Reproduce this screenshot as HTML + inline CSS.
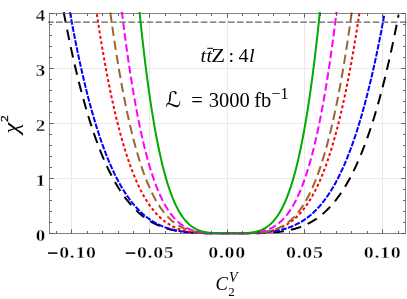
<!DOCTYPE html><html><head><meta charset="utf-8"><style>html,body{margin:0;padding:0;background:#fff}svg{display:block}text{font-family:"Liberation Serif",serif;}svg{will-change:transform}</style></head><body>
<svg width="407" height="299" viewBox="0 0 407 299">
<rect width="407" height="299" fill="#fff"/>
<path d="M71.50 13.50 V233.50 M149.50 13.50 V233.50 M227.50 13.50 V233.50 M304.50 13.50 V233.50 M382.50 13.50 V233.50 M49.50 178.50 H405.50 M49.50 123.50 H405.50 M49.50 68.50 H405.50" stroke="#e4e4e4" stroke-width="0.8" fill="none"/>
<g fill="none">
<path d="M63.67 11.98 L64.70 17.36 L65.73 22.65 L66.76 27.83 L67.79 32.92 L68.82 37.91 L69.85 42.82 L70.87 47.62 L71.90 52.34 L72.93 56.96 L73.96 61.50 L74.99 65.95 L76.02 70.31 L77.04 74.59 L78.07 78.78 L79.10 82.89 L80.13 86.91 L81.16 90.85 L82.19 94.72 L83.22 98.50 L84.24 102.21 L85.27 105.84 L86.30 109.39 L87.33 112.87 L88.36 116.28 L89.39 119.61 L90.41 122.87 L91.44 126.06 L92.47 129.18 L93.50 132.23 L94.53 135.22 L95.56 138.13 L96.59 140.99 L97.61 143.77 L98.64 146.50 L99.67 149.16 L100.70 151.76 L101.73 154.30 L102.76 156.78 L103.78 159.20 L104.81 161.56 L105.84 163.87 L106.87 166.11 L107.90 168.31 L108.93 170.45 L109.96 172.54 L110.98 174.57 L112.01 176.56 L113.04 178.49 L114.07 180.37 L115.10 182.20 L116.13 183.99 L117.15 185.73 L118.18 187.42 L119.21 189.07 L120.24 190.67 L121.27 192.23 L122.30 193.74 L123.33 195.22 L124.35 196.65 L125.38 198.04 L126.41 199.39 L127.44 200.70 L128.47 201.97 L129.50 203.21 L130.52 204.41 L131.55 205.57 L132.58 206.70 L133.61 207.79 L134.64 208.85 L135.67 209.87 L136.70 210.86 L137.72 211.83 L138.75 212.75 L139.78 213.65 L140.81 214.52 L141.84 215.36 L142.87 216.17 L143.89 216.96 L144.92 217.72 L145.95 218.45 L146.98 219.15 L148.01 219.83 L149.04 220.48 L150.07 221.11 L151.09 221.72 L152.12 222.30 L153.15 222.86 L154.18 223.40 L155.21 223.92 L156.24 224.42 L157.26 224.90 L158.29 225.35 L159.32 225.79 L160.35 226.21 L161.38 226.62 L162.41 227.00 L163.44 227.37 L164.46 227.72 L165.49 228.06 L166.52 228.38 L167.55 228.69 L168.58 228.98 L169.61 229.26 L170.63 229.52 L171.66 229.77 L172.69 230.01 L173.72 230.23 L174.75 230.45 L175.78 230.65 L176.81 230.84 L177.83 231.02 L178.86 231.19 L179.89 231.36 L180.92 231.51 L181.95 231.65 L182.98 231.78 L184.00 231.91 L185.03 232.03 L186.06 232.14 L187.09 232.24 L188.12 232.34 L189.15 232.43 L190.18 232.51 L191.20 232.58 L192.23 232.66 L193.26 232.72 L194.29 232.78 L195.32 232.84 L196.35 232.89 L197.37 232.94 L198.40 232.98 L199.43 233.02 L200.46 233.05 L201.49 233.08 L202.52 233.11 L203.55 233.14 L204.57 233.16 L205.60 233.18 L206.63 233.20 L207.66 233.22 L208.69 233.23 L209.72 233.24 L210.74 233.25 L211.77 233.26 L212.80 233.27 L213.83 233.28 L214.86 233.28 L215.89 233.29 L216.92 233.29 L217.94 233.29 L218.97 233.29 L220.00 233.30 L221.03 233.30 L222.06 233.30 L223.09 233.30 L224.11 233.30 L225.14 233.30 L226.17 233.30 L227.20 233.30" stroke="#000000" stroke-width="2.00" stroke-dasharray="10.60 7.20" stroke-dashoffset="17.57"/>
<path d="M398.57 14.90 L397.49 20.48 L396.41 25.95 L395.33 31.32 L394.26 36.58 L393.18 41.74 L392.10 46.80 L391.02 51.75 L389.95 56.61 L388.87 61.37 L387.79 66.03 L386.71 70.60 L385.63 75.07 L384.56 79.45 L383.48 83.74 L382.40 87.94 L381.32 92.05 L380.25 96.07 L379.17 100.00 L378.09 103.85 L377.01 107.62 L375.93 111.30 L374.86 114.90 L373.78 118.42 L372.70 121.87 L371.62 125.23 L370.55 128.52 L369.47 131.73 L368.39 134.87 L367.31 137.93 L366.23 140.92 L365.16 143.84 L364.08 146.70 L363.00 149.48 L361.92 152.19 L360.85 154.84 L359.77 157.43 L358.69 159.94 L357.61 162.40 L356.53 164.79 L355.46 167.13 L354.38 169.40 L353.30 171.61 L352.22 173.77 L351.15 175.87 L350.07 177.91 L348.99 179.90 L347.91 181.83 L346.83 183.71 L345.76 185.54 L344.68 187.32 L343.60 189.04 L342.52 190.72 L341.45 192.35 L340.37 193.94 L339.29 195.47 L338.21 196.96 L337.13 198.41 L336.06 199.81 L334.98 201.17 L333.90 202.49 L332.82 203.77 L331.75 205.01 L330.67 206.21 L329.59 207.37 L328.51 208.49 L327.43 209.57 L326.36 210.62 L325.28 211.64 L324.20 212.62 L323.12 213.56 L322.05 214.48 L320.97 215.36 L319.89 216.21 L318.81 217.03 L317.73 217.82 L316.66 218.58 L315.58 219.31 L314.50 220.01 L313.42 220.69 L312.35 221.34 L311.27 221.97 L310.19 222.57 L309.11 223.15 L308.03 223.70 L306.96 224.23 L305.88 224.74 L304.80 225.22 L303.72 225.69 L302.64 226.14 L301.57 226.56 L300.49 226.97 L299.41 227.35 L298.33 227.72 L297.26 228.08 L296.18 228.41 L295.10 228.73 L294.02 229.03 L292.94 229.32 L291.87 229.59 L290.79 229.85 L289.71 230.10 L288.63 230.33 L287.56 230.55 L286.48 230.75 L285.40 230.95 L284.32 231.13 L283.24 231.30 L282.17 231.47 L281.09 231.62 L280.01 231.76 L278.93 231.89 L277.86 232.02 L276.78 232.13 L275.70 232.24 L274.62 232.34 L273.54 232.43 L272.47 232.52 L271.39 232.60 L270.31 232.67 L269.23 232.74 L268.16 232.80 L267.08 232.86 L266.00 232.91 L264.92 232.96 L263.84 233.00 L262.77 233.04 L261.69 233.07 L260.61 233.10 L259.53 233.13 L258.46 233.16 L257.38 233.18 L256.30 233.20 L255.22 233.22 L254.14 233.23 L253.07 233.24 L251.99 233.25 L250.91 233.26 L249.83 233.27 L248.76 233.28 L247.68 233.28 L246.60 233.29 L245.52 233.29 L244.44 233.29 L243.37 233.30 L242.29 233.30 L241.21 233.30 L240.13 233.30 L239.06 233.30 L237.98 233.30 L236.90 233.30 L235.82 233.30 L234.74 233.30 L233.67 233.30 L232.59 233.30 L231.51 233.30 L230.43 233.30 L229.36 233.30 L228.28 233.30 L227.20 233.30" stroke="#000000" stroke-width="2.00" stroke-dasharray="10.60 7.20" stroke-dashoffset="7.80"/>
<path d="M69.91 11.98 L70.90 17.43 L71.89 22.79 L72.88 28.04 L73.86 33.19 L74.85 38.25 L75.84 43.21 L76.83 48.07 L77.82 52.84 L78.81 57.51 L79.80 62.10 L80.79 66.59 L81.78 70.99 L82.77 75.31 L83.76 79.54 L84.75 83.68 L85.74 87.74 L86.72 91.71 L87.71 95.61 L88.70 99.42 L89.69 103.15 L90.68 106.80 L91.67 110.38 L92.66 113.87 L93.65 117.30 L94.64 120.64 L95.63 123.92 L96.62 127.12 L97.61 130.25 L98.60 133.31 L99.59 136.31 L100.57 139.23 L101.56 142.09 L102.55 144.88 L103.54 147.61 L104.53 150.27 L105.52 152.87 L106.51 155.41 L107.50 157.88 L108.49 160.30 L109.48 162.66 L110.47 164.96 L111.46 167.20 L112.45 169.39 L113.43 171.52 L114.42 173.60 L115.41 175.62 L116.40 177.60 L117.39 179.52 L118.38 181.39 L119.37 183.21 L120.36 184.98 L121.35 186.71 L122.34 188.39 L123.33 190.02 L124.32 191.60 L125.31 193.15 L126.30 194.65 L127.28 196.10 L128.27 197.52 L129.26 198.89 L130.25 200.22 L131.24 201.52 L132.23 202.77 L133.22 203.99 L134.21 205.17 L135.20 206.31 L136.19 207.42 L137.18 208.49 L138.17 209.53 L139.16 210.54 L140.14 211.51 L141.13 212.45 L142.12 213.36 L143.11 214.24 L144.10 215.09 L145.09 215.91 L146.08 216.71 L147.07 217.47 L148.06 218.21 L149.05 218.92 L150.04 219.61 L151.03 220.27 L152.02 220.90 L153.01 221.52 L153.99 222.11 L154.98 222.67 L155.97 223.22 L156.96 223.74 L157.95 224.24 L158.94 224.72 L159.93 225.18 L160.92 225.63 L161.91 226.05 L162.90 226.46 L163.89 226.85 L164.88 227.22 L165.87 227.57 L166.85 227.91 L167.84 228.23 L168.83 228.54 L169.82 228.84 L170.81 229.11 L171.80 229.38 L172.79 229.63 L173.78 229.87 L174.77 230.10 L175.76 230.32 L176.75 230.52 L177.74 230.72 L178.73 230.90 L179.72 231.07 L180.70 231.24 L181.69 231.39 L182.68 231.53 L183.67 231.67 L184.66 231.80 L185.65 231.92 L186.64 232.03 L187.63 232.14 L188.62 232.23 L189.61 232.33 L190.60 232.41 L191.59 232.49 L192.58 232.57 L193.57 232.63 L194.55 232.70 L195.54 232.76 L196.53 232.81 L197.52 232.86 L198.51 232.91 L199.50 232.95 L200.49 232.99 L201.48 233.02 L202.47 233.05 L203.46 233.08 L204.45 233.11 L205.44 233.13 L206.43 233.15 L207.41 233.17 L208.40 233.19 L209.39 233.21 L210.38 233.22 L211.37 233.23 L212.36 233.24 L213.35 233.25 L214.34 233.26 L215.33 233.27 L216.32 233.27 L217.31 233.28 L218.30 233.28 L219.29 233.29 L220.28 233.29 L221.26 233.29 L222.25 233.30 L223.24 233.30 L224.23 233.30 L225.22 233.30 L226.21 233.30 L227.20 233.30" stroke="#0000ff" stroke-width="2.00" stroke-dasharray="5.70 1.45" stroke-dashoffset="6.96"/>
<path d="M384.11 15.80 L383.13 21.17 L382.14 26.44 L381.15 31.61 L380.16 36.69 L379.18 41.66 L378.19 46.54 L377.20 51.33 L376.22 56.02 L375.23 60.62 L374.24 65.13 L373.26 69.56 L372.27 73.89 L371.28 78.14 L370.30 82.30 L369.31 86.38 L368.32 90.37 L367.34 94.28 L366.35 98.11 L365.36 101.86 L364.37 105.53 L363.39 109.12 L362.40 112.64 L361.41 116.08 L360.43 119.45 L359.44 122.74 L358.45 125.96 L357.47 129.11 L356.48 132.19 L355.49 135.20 L354.51 138.14 L353.52 141.02 L352.53 143.83 L351.55 146.57 L350.56 149.25 L349.57 151.87 L348.59 154.42 L347.60 156.92 L346.61 159.35 L345.62 161.73 L344.64 164.04 L343.65 166.30 L342.66 168.51 L341.68 170.66 L340.69 172.75 L339.70 174.79 L338.72 176.78 L337.73 178.72 L336.74 180.61 L335.76 182.45 L334.77 184.23 L333.78 185.97 L332.80 187.67 L331.81 189.32 L330.82 190.92 L329.83 192.48 L328.85 193.99 L327.86 195.46 L326.87 196.89 L325.89 198.28 L324.90 199.63 L323.91 200.93 L322.93 202.20 L321.94 203.43 L320.95 204.63 L319.97 205.78 L318.98 206.91 L317.99 207.99 L317.01 209.05 L316.02 210.06 L315.03 211.05 L314.04 212.01 L313.06 212.93 L312.07 213.82 L311.08 214.68 L310.10 215.52 L309.11 216.32 L308.12 217.10 L307.14 217.85 L306.15 218.57 L305.16 219.27 L304.18 219.94 L303.19 220.58 L302.20 221.21 L301.22 221.81 L300.23 222.38 L299.24 222.94 L298.25 223.47 L297.27 223.98 L296.28 224.47 L295.29 224.94 L294.31 225.39 L293.32 225.83 L292.33 226.24 L291.35 226.64 L290.36 227.02 L289.37 227.38 L288.39 227.72 L287.40 228.06 L286.41 228.37 L285.43 228.67 L284.44 228.96 L283.45 229.23 L282.46 229.49 L281.48 229.74 L280.49 229.97 L279.50 230.19 L278.52 230.40 L277.53 230.60 L276.54 230.79 L275.56 230.97 L274.57 231.14 L273.58 231.30 L272.60 231.45 L271.61 231.59 L270.62 231.72 L269.64 231.85 L268.65 231.96 L267.66 232.07 L266.67 232.17 L265.69 232.27 L264.70 232.36 L263.71 232.44 L262.73 232.52 L261.74 232.59 L260.75 232.66 L259.77 232.72 L258.78 232.77 L257.79 232.83 L256.81 232.88 L255.82 232.92 L254.83 232.96 L253.85 233.00 L252.86 233.03 L251.87 233.06 L250.88 233.09 L249.90 233.12 L248.91 233.14 L247.92 233.16 L246.94 233.18 L245.95 233.19 L244.96 233.21 L243.98 233.22 L242.99 233.23 L242.00 233.24 L241.02 233.25 L240.03 233.26 L239.04 233.27 L238.06 233.27 L237.07 233.28 L236.08 233.28 L235.09 233.29 L234.11 233.29 L233.12 233.29 L232.13 233.30 L231.15 233.30 L230.16 233.30 L229.17 233.30 L228.19 233.30 L227.20 233.30" stroke="#0000ff" stroke-width="2.00" stroke-dasharray="5.70 1.45" stroke-dashoffset="0.00"/>
<path d="M96.54 11.98 L97.36 17.46 L98.18 22.84 L99.00 28.11 L99.83 33.29 L100.65 38.37 L101.47 43.35 L102.29 48.24 L103.11 53.03 L103.93 57.72 L104.76 62.33 L105.58 66.84 L106.40 71.26 L107.22 75.60 L108.04 79.84 L108.87 84.00 L109.69 88.08 L110.51 92.07 L111.33 95.98 L112.15 99.80 L112.97 103.55 L113.80 107.22 L114.62 110.81 L115.44 114.32 L116.26 117.75 L117.08 121.11 L117.90 124.40 L118.73 127.61 L119.55 130.76 L120.37 133.83 L121.19 136.83 L122.01 139.76 L122.84 142.63 L123.66 145.43 L124.48 148.16 L125.30 150.83 L126.12 153.44 L126.94 155.98 L127.77 158.47 L128.59 160.89 L129.41 163.25 L130.23 165.56 L131.05 167.81 L131.87 170.00 L132.70 172.13 L133.52 174.22 L134.34 176.24 L135.16 178.22 L135.98 180.14 L136.81 182.02 L137.63 183.84 L138.45 185.61 L139.27 187.34 L140.09 189.02 L140.91 190.65 L141.74 192.23 L142.56 193.78 L143.38 195.27 L144.20 196.73 L145.02 198.14 L145.85 199.51 L146.67 200.84 L147.49 202.14 L148.31 203.39 L149.13 204.60 L149.95 205.78 L150.78 206.92 L151.60 208.02 L152.42 209.09 L153.24 210.13 L154.06 211.13 L154.88 212.10 L155.71 213.03 L156.53 213.94 L157.35 214.81 L158.17 215.66 L158.99 216.47 L159.82 217.26 L160.64 218.02 L161.46 218.75 L162.28 219.46 L163.10 220.14 L163.92 220.79 L164.75 221.42 L165.57 222.02 L166.39 222.61 L167.21 223.16 L168.03 223.70 L168.85 224.22 L169.68 224.71 L170.50 225.18 L171.32 225.64 L172.14 226.07 L172.96 226.49 L173.79 226.89 L174.61 227.27 L175.43 227.63 L176.25 227.97 L177.07 228.30 L177.89 228.62 L178.72 228.92 L179.54 229.20 L180.36 229.47 L181.18 229.73 L182.00 229.97 L182.82 230.21 L183.65 230.42 L184.47 230.63 L185.29 230.83 L186.11 231.01 L186.93 231.19 L187.76 231.35 L188.58 231.50 L189.40 231.65 L190.22 231.79 L191.04 231.91 L191.86 232.03 L192.69 232.14 L193.51 232.25 L194.33 232.34 L195.15 232.43 L195.97 232.52 L196.79 232.59 L197.62 232.67 L198.44 232.73 L199.26 232.79 L200.08 232.85 L200.90 232.90 L201.73 232.95 L202.55 232.99 L203.37 233.03 L204.19 233.06 L205.01 233.09 L205.83 233.12 L206.66 233.15 L207.48 233.17 L208.30 233.19 L209.12 233.21 L209.94 233.22 L210.76 233.23 L211.59 233.25 L212.41 233.26 L213.23 233.26 L214.05 233.27 L214.87 233.28 L215.70 233.28 L216.52 233.29 L217.34 233.29 L218.16 233.29 L218.98 233.30 L219.80 233.30 L220.63 233.30 L221.45 233.30 L222.27 233.30 L223.09 233.30 L223.91 233.30 L224.73 233.30 L225.56 233.30 L226.38 233.30 L227.20 233.30" stroke="#ff0000" stroke-width="2.00" stroke-dasharray="3.00 2.50" stroke-dashoffset="3.41"/>
<path d="M359.57 11.98 L358.74 17.53 L357.91 22.98 L357.07 28.32 L356.24 33.56 L355.41 38.70 L354.58 43.74 L353.74 48.68 L352.91 53.52 L352.08 58.27 L351.25 62.92 L350.41 67.48 L349.58 71.95 L348.75 76.32 L347.92 80.61 L347.08 84.81 L346.25 88.92 L345.42 92.95 L344.59 96.89 L343.75 100.74 L342.92 104.52 L342.09 108.21 L341.26 111.83 L340.42 115.36 L339.59 118.82 L338.76 122.20 L337.93 125.50 L337.09 128.73 L336.26 131.89 L335.43 134.97 L334.60 137.99 L333.76 140.93 L332.93 143.81 L332.10 146.62 L331.27 149.36 L330.43 152.04 L329.60 154.65 L328.77 157.19 L327.94 159.68 L327.10 162.10 L326.27 164.47 L325.44 166.77 L324.61 169.02 L323.77 171.21 L322.94 173.34 L322.11 175.42 L321.28 177.44 L320.44 179.41 L319.61 181.33 L318.78 183.19 L317.95 185.00 L317.11 186.77 L316.28 188.48 L315.45 190.15 L314.62 191.77 L313.78 193.35 L312.95 194.88 L312.12 196.36 L311.29 197.81 L310.45 199.20 L309.62 200.56 L308.79 201.88 L307.95 203.15 L307.12 204.39 L306.29 205.59 L305.46 206.75 L304.62 207.88 L303.79 208.96 L302.96 210.02 L302.13 211.03 L301.29 212.02 L300.46 212.97 L299.63 213.89 L298.80 214.78 L297.96 215.63 L297.13 216.46 L296.30 217.26 L295.47 218.03 L294.63 218.77 L293.80 219.48 L292.97 220.17 L292.14 220.83 L291.30 221.46 L290.47 222.08 L289.64 222.66 L288.81 223.23 L287.97 223.77 L287.14 224.29 L286.31 224.78 L285.48 225.26 L284.64 225.72 L283.81 226.15 L282.98 226.57 L282.15 226.97 L281.31 227.35 L280.48 227.71 L279.65 228.06 L278.82 228.39 L277.98 228.70 L277.15 229.00 L276.32 229.29 L275.49 229.56 L274.65 229.81 L273.82 230.06 L272.99 230.29 L272.16 230.50 L271.32 230.71 L270.49 230.90 L269.66 231.09 L268.83 231.26 L267.99 231.42 L267.16 231.57 L266.33 231.71 L265.50 231.85 L264.66 231.97 L263.83 232.09 L263.00 232.20 L262.17 232.30 L261.33 232.39 L260.50 232.48 L259.67 232.56 L258.84 232.64 L258.00 232.71 L257.17 232.77 L256.34 232.83 L255.51 232.88 L254.67 232.93 L253.84 232.97 L253.01 233.01 L252.18 233.05 L251.34 233.08 L250.51 233.11 L249.68 233.14 L248.85 233.16 L248.01 233.18 L247.18 233.20 L246.35 233.22 L245.52 233.23 L244.68 233.24 L243.85 233.25 L243.02 233.26 L242.19 233.27 L241.35 233.28 L240.52 233.28 L239.69 233.29 L238.86 233.29 L238.02 233.29 L237.19 233.29 L236.36 233.30 L235.53 233.30 L234.69 233.30 L233.86 233.30 L233.03 233.30 L232.20 233.30 L231.36 233.30 L230.53 233.30 L229.70 233.30 L228.87 233.30 L228.03 233.30 L227.20 233.30" stroke="#ff0000" stroke-width="2.00" stroke-dasharray="3.00 2.50" stroke-dashoffset="4.16"/>
<path d="M110.24 11.98 L110.97 17.33 L111.71 22.58 L112.45 27.73 L113.18 32.79 L113.92 37.76 L114.65 42.63 L115.39 47.41 L116.12 52.10 L116.86 56.70 L117.60 61.22 L118.33 65.64 L119.07 69.98 L119.80 74.24 L120.54 78.41 L121.27 82.50 L122.01 86.51 L122.74 90.44 L123.48 94.28 L124.22 98.05 L124.95 101.75 L125.69 105.36 L126.42 108.90 L127.16 112.37 L127.89 115.77 L128.63 119.09 L129.36 122.34 L130.10 125.52 L130.84 128.64 L131.57 131.68 L132.31 134.66 L133.04 137.57 L133.78 140.42 L134.51 143.20 L135.25 145.92 L135.99 148.58 L136.72 151.18 L137.46 153.71 L138.19 156.19 L138.93 158.61 L139.66 160.97 L140.40 163.28 L141.13 165.53 L141.87 167.73 L142.61 169.87 L143.34 171.96 L144.08 173.99 L144.81 175.98 L145.55 177.91 L146.28 179.80 L147.02 181.64 L147.75 183.43 L148.49 185.17 L149.23 186.87 L149.96 188.52 L150.70 190.13 L151.43 191.69 L152.17 193.21 L152.90 194.69 L153.64 196.13 L154.38 197.52 L155.11 198.88 L155.85 200.20 L156.58 201.48 L157.32 202.72 L158.05 203.93 L158.79 205.10 L159.52 206.23 L160.26 207.33 L161.00 208.40 L161.73 209.43 L162.47 210.43 L163.20 211.40 L163.94 212.34 L164.67 213.25 L165.41 214.13 L166.14 214.97 L166.88 215.79 L167.62 216.59 L168.35 217.35 L169.09 218.09 L169.82 218.80 L170.56 219.49 L171.29 220.15 L172.03 220.79 L172.77 221.41 L173.50 222.00 L174.24 222.57 L174.97 223.12 L175.71 223.64 L176.44 224.15 L177.18 224.63 L177.91 225.10 L178.65 225.55 L179.39 225.98 L180.12 226.39 L180.86 226.78 L181.59 227.16 L182.33 227.52 L183.06 227.86 L183.80 228.19 L184.54 228.50 L185.27 228.80 L186.01 229.09 L186.74 229.36 L187.48 229.61 L188.21 229.86 L188.95 230.09 L189.68 230.31 L190.42 230.52 L191.16 230.72 L191.89 230.91 L192.63 231.08 L193.36 231.25 L194.10 231.41 L194.83 231.55 L195.57 231.69 L196.30 231.82 L197.04 231.95 L197.78 232.06 L198.51 232.17 L199.25 232.27 L199.98 232.36 L200.72 232.45 L201.45 232.53 L202.19 232.61 L202.93 232.68 L203.66 232.74 L204.40 232.80 L205.13 232.85 L205.87 232.90 L206.60 232.95 L207.34 232.99 L208.07 233.03 L208.81 233.06 L209.55 233.09 L210.28 233.12 L211.02 233.15 L211.75 233.17 L212.49 233.19 L213.22 233.21 L213.96 233.22 L214.69 233.23 L215.43 233.25 L216.17 233.26 L216.90 233.26 L217.64 233.27 L218.37 233.28 L219.11 233.28 L219.84 233.29 L220.58 233.29 L221.32 233.29 L222.05 233.30 L222.79 233.30 L223.52 233.30 L224.26 233.30 L224.99 233.30 L225.73 233.30 L226.46 233.30 L227.20 233.30" stroke="#996633" stroke-width="2.00" stroke-dasharray="9.30 4.97" stroke-dashoffset="13.75"/>
<path d="M351.78 11.98 L351.00 17.67 L350.21 23.26 L349.43 28.73 L348.65 34.10 L347.86 39.36 L347.08 44.51 L346.30 49.56 L345.51 54.51 L344.73 59.36 L343.95 64.11 L343.16 68.76 L342.38 73.32 L341.59 77.78 L340.81 82.14 L340.03 86.42 L339.24 90.60 L338.46 94.69 L337.68 98.70 L336.89 102.61 L336.11 106.44 L335.33 110.19 L334.54 113.85 L333.76 117.43 L332.98 120.93 L332.19 124.35 L331.41 127.69 L330.63 130.95 L329.84 134.14 L329.06 137.25 L328.27 140.29 L327.49 143.26 L326.71 146.15 L325.92 148.97 L325.14 151.73 L324.36 154.41 L323.57 157.03 L322.79 159.59 L322.01 162.08 L321.22 164.50 L320.44 166.87 L319.66 169.17 L318.87 171.41 L318.09 173.59 L317.31 175.72 L316.52 177.78 L315.74 179.79 L314.95 181.75 L314.17 183.65 L313.39 185.50 L312.60 187.30 L311.82 189.04 L311.04 190.74 L310.25 192.38 L309.47 193.98 L308.69 195.53 L307.90 197.04 L307.12 198.50 L306.34 199.91 L305.55 201.28 L304.77 202.61 L303.99 203.90 L303.20 205.14 L302.42 206.35 L301.63 207.52 L300.85 208.64 L300.07 209.74 L299.28 210.79 L298.50 211.81 L297.72 212.79 L296.93 213.74 L296.15 214.66 L295.37 215.54 L294.58 216.39 L293.80 217.22 L293.02 218.01 L292.23 218.77 L291.45 219.50 L290.67 220.21 L289.88 220.88 L289.10 221.53 L288.31 222.16 L287.53 222.76 L286.75 223.33 L285.96 223.88 L285.18 224.41 L284.40 224.92 L283.61 225.40 L282.83 225.86 L282.05 226.31 L281.26 226.73 L280.48 227.13 L279.70 227.51 L278.91 227.88 L278.13 228.23 L277.35 228.56 L276.56 228.87 L275.78 229.17 L274.99 229.46 L274.21 229.73 L273.43 229.98 L272.64 230.22 L271.86 230.45 L271.08 230.66 L270.29 230.86 L269.51 231.05 L268.73 231.23 L267.94 231.40 L267.16 231.56 L266.38 231.71 L265.59 231.84 L264.81 231.97 L264.03 232.09 L263.24 232.21 L262.46 232.31 L261.68 232.41 L260.89 232.50 L260.11 232.58 L259.32 232.65 L258.54 232.72 L257.76 232.79 L256.97 232.85 L256.19 232.90 L255.41 232.95 L254.62 232.99 L253.84 233.03 L253.06 233.07 L252.27 233.10 L251.49 233.13 L250.71 233.15 L249.92 233.18 L249.14 233.20 L248.36 233.21 L247.57 233.23 L246.79 233.24 L246.00 233.25 L245.22 233.26 L244.44 233.27 L243.65 233.28 L242.87 233.28 L242.09 233.29 L241.30 233.29 L240.52 233.29 L239.74 233.30 L238.95 233.30 L238.17 233.30 L237.39 233.30 L236.60 233.30 L235.82 233.30 L235.04 233.30 L234.25 233.30 L233.47 233.30 L232.68 233.30 L231.90 233.30 L231.12 233.30 L230.33 233.30 L229.55 233.30 L228.77 233.30 L227.98 233.30 L227.20 233.30" stroke="#996633" stroke-width="2.00" stroke-dasharray="9.30 4.97" stroke-dashoffset="13.90"/>
<path d="M121.92 11.98 L122.58 17.39 L123.25 22.71 L123.91 27.92 L124.57 33.04 L125.23 38.07 L125.89 42.99 L126.56 47.83 L127.22 52.57 L127.88 57.21 L128.54 61.77 L129.21 66.24 L129.87 70.63 L130.53 74.92 L131.19 79.13 L131.85 83.25 L132.52 87.30 L133.18 91.26 L133.84 95.13 L134.50 98.93 L135.16 102.65 L135.83 106.29 L136.49 109.86 L137.15 113.35 L137.81 116.76 L138.47 120.11 L139.14 123.38 L139.80 126.57 L140.46 129.70 L141.12 132.76 L141.79 135.75 L142.45 138.67 L143.11 141.53 L143.77 144.32 L144.43 147.05 L145.10 149.71 L145.76 152.32 L146.42 154.86 L147.08 157.34 L147.74 159.76 L148.41 162.12 L149.07 164.43 L149.73 166.68 L150.39 168.87 L151.06 171.01 L151.72 173.09 L152.38 175.13 L153.04 177.11 L153.70 179.04 L154.37 180.92 L155.03 182.75 L155.69 184.53 L156.35 186.26 L157.01 187.95 L157.68 189.59 L158.34 191.19 L159.00 192.74 L159.66 194.25 L160.33 195.72 L160.99 197.14 L161.65 198.53 L162.31 199.87 L162.97 201.18 L163.64 202.44 L164.30 203.67 L164.96 204.86 L165.62 206.02 L166.28 207.14 L166.95 208.22 L167.61 209.27 L168.27 210.29 L168.93 211.28 L169.59 212.23 L170.26 213.15 L170.92 214.04 L171.58 214.90 L172.24 215.73 L172.91 216.54 L173.57 217.31 L174.23 218.06 L174.89 218.78 L175.55 219.48 L176.22 220.15 L176.88 220.80 L177.54 221.42 L178.20 222.02 L178.86 222.59 L179.53 223.14 L180.19 223.68 L180.85 224.19 L181.51 224.68 L182.18 225.14 L182.84 225.60 L183.50 226.03 L184.16 226.44 L184.82 226.83 L185.49 227.21 L186.15 227.57 L186.81 227.92 L187.47 228.25 L188.13 228.56 L188.80 228.86 L189.46 229.14 L190.12 229.42 L190.78 229.67 L191.45 229.92 L192.11 230.15 L192.77 230.37 L193.43 230.58 L194.09 230.77 L194.76 230.96 L195.42 231.13 L196.08 231.30 L196.74 231.46 L197.40 231.60 L198.07 231.74 L198.73 231.87 L199.39 231.99 L200.05 232.10 L200.71 232.21 L201.38 232.31 L202.04 232.40 L202.70 232.48 L203.36 232.56 L204.03 232.64 L204.69 232.70 L205.35 232.77 L206.01 232.82 L206.67 232.88 L207.34 232.92 L208.00 232.97 L208.66 233.01 L209.32 233.04 L209.98 233.08 L210.65 233.11 L211.31 233.13 L211.97 233.16 L212.63 233.18 L213.30 233.20 L213.96 233.21 L214.62 233.23 L215.28 233.24 L215.94 233.25 L216.61 233.26 L217.27 233.27 L217.93 233.27 L218.59 233.28 L219.25 233.28 L219.92 233.29 L220.58 233.29 L221.24 233.29 L221.90 233.30 L222.57 233.30 L223.23 233.30 L223.89 233.30 L224.55 233.30 L225.21 233.30 L225.88 233.30 L226.54 233.30 L227.20 233.30" stroke="#ff00ff" stroke-width="2.00" stroke-dasharray="7.60 3.40" stroke-dashoffset="0.60"/>
<path d="M336.52 11.98 L335.83 17.60 L335.15 23.11 L334.46 28.52 L333.77 33.82 L333.08 39.02 L332.40 44.11 L331.71 49.11 L331.02 54.00 L330.33 58.80 L329.65 63.50 L328.96 68.11 L328.27 72.62 L327.58 77.03 L326.90 81.36 L326.21 85.59 L325.52 89.74 L324.83 93.80 L324.15 97.77 L323.46 101.65 L322.77 105.46 L322.08 109.18 L321.40 112.81 L320.71 116.37 L320.02 119.85 L319.33 123.25 L318.64 126.57 L317.96 129.81 L317.27 132.99 L316.58 136.09 L315.89 139.11 L315.21 142.07 L314.52 144.95 L313.83 147.77 L313.14 150.52 L312.46 153.20 L311.77 155.81 L311.08 158.36 L310.39 160.85 L309.71 163.28 L309.02 165.64 L308.33 167.94 L307.64 170.19 L306.96 172.37 L306.27 174.50 L305.58 176.57 L304.89 178.59 L304.21 180.55 L303.52 182.46 L302.83 184.32 L302.14 186.13 L301.46 187.88 L300.77 189.59 L300.08 191.25 L299.39 192.86 L298.71 194.42 L298.02 195.94 L297.33 197.41 L296.64 198.84 L295.96 200.22 L295.27 201.57 L294.58 202.87 L293.89 204.13 L293.21 205.35 L292.52 206.54 L291.83 207.68 L291.14 208.79 L290.46 209.86 L289.77 210.90 L289.08 211.90 L288.39 212.87 L287.70 213.80 L287.02 214.70 L286.33 215.57 L285.64 216.41 L284.95 217.22 L284.27 218.00 L283.58 218.75 L282.89 219.48 L282.20 220.17 L281.52 220.84 L280.83 221.48 L280.14 222.10 L279.45 222.70 L278.77 223.27 L278.08 223.81 L277.39 224.34 L276.70 224.84 L276.02 225.32 L275.33 225.78 L274.64 226.22 L273.95 226.64 L273.27 227.04 L272.58 227.42 L271.89 227.79 L271.20 228.13 L270.52 228.46 L269.83 228.78 L269.14 229.08 L268.45 229.36 L267.77 229.63 L267.08 229.89 L266.39 230.13 L265.70 230.36 L265.02 230.57 L264.33 230.78 L263.64 230.97 L262.95 231.15 L262.27 231.32 L261.58 231.48 L260.89 231.63 L260.20 231.77 L259.52 231.91 L258.83 232.03 L258.14 232.14 L257.45 232.25 L256.76 232.35 L256.08 232.44 L255.39 232.53 L254.70 232.60 L254.01 232.68 L253.33 232.74 L252.64 232.80 L251.95 232.86 L251.26 232.91 L250.58 232.96 L249.89 233.00 L249.20 233.04 L248.51 233.07 L247.83 233.10 L247.14 233.13 L246.45 233.16 L245.76 233.18 L245.08 233.20 L244.39 233.21 L243.70 233.23 L243.01 233.24 L242.33 233.25 L241.64 233.26 L240.95 233.27 L240.26 233.28 L239.58 233.28 L238.89 233.29 L238.20 233.29 L237.51 233.29 L236.83 233.30 L236.14 233.30 L235.45 233.30 L234.76 233.30 L234.08 233.30 L233.39 233.30 L232.70 233.30 L232.01 233.30 L231.33 233.30 L230.64 233.30 L229.95 233.30 L229.26 233.30 L228.58 233.30 L227.89 233.30 L227.20 233.30" stroke="#ff00ff" stroke-width="2.00" stroke-dasharray="7.60 3.40" stroke-dashoffset="5.12"/>
<path d="M139.52 11.98 L140.08 17.48 L140.65 22.88 L141.21 28.18 L141.78 33.38 L142.35 38.47 L142.91 43.47 L143.48 48.38 L144.04 53.18 L144.61 57.89 L145.17 62.51 L145.74 67.04 L146.30 71.48 L146.87 75.83 L147.43 80.09 L148.00 84.26 L148.56 88.35 L149.13 92.35 L149.69 96.27 L150.26 100.10 L150.83 103.86 L151.39 107.53 L151.96 111.13 L152.52 114.65 L153.09 118.09 L153.65 121.46 L154.22 124.75 L154.78 127.97 L155.35 131.12 L155.91 134.20 L156.48 137.20 L157.04 140.14 L157.61 143.01 L158.17 145.81 L158.74 148.55 L159.31 151.22 L159.87 153.83 L160.44 156.38 L161.00 158.86 L161.57 161.28 L162.13 163.65 L162.70 165.95 L163.26 168.20 L163.83 170.39 L164.39 172.53 L164.96 174.61 L165.52 176.63 L166.09 178.61 L166.65 180.53 L167.22 182.40 L167.79 184.22 L168.35 185.99 L168.92 187.72 L169.48 189.39 L170.05 191.02 L170.61 192.60 L171.18 194.14 L171.74 195.64 L172.31 197.09 L172.87 198.50 L173.44 199.86 L174.00 201.19 L174.57 202.48 L175.13 203.72 L175.70 204.93 L176.26 206.11 L176.83 207.24 L177.40 208.34 L177.96 209.40 L178.53 210.43 L179.09 211.43 L179.66 212.39 L180.22 213.33 L180.79 214.23 L181.35 215.09 L181.92 215.93 L182.48 216.74 L183.05 217.52 L183.61 218.28 L184.18 219.00 L184.74 219.70 L185.31 220.38 L185.88 221.02 L186.44 221.65 L187.01 222.25 L187.57 222.82 L188.14 223.38 L188.70 223.91 L189.27 224.42 L189.83 224.91 L190.40 225.37 L190.96 225.82 L191.53 226.25 L192.09 226.66 L192.66 227.05 L193.22 227.43 L193.79 227.78 L194.36 228.13 L194.92 228.45 L195.49 228.76 L196.05 229.05 L196.62 229.33 L197.18 229.60 L197.75 229.85 L198.31 230.09 L198.88 230.32 L199.44 230.53 L200.01 230.73 L200.57 230.93 L201.14 231.11 L201.70 231.28 L202.27 231.44 L202.84 231.59 L203.40 231.73 L203.97 231.86 L204.53 231.98 L205.10 232.10 L205.66 232.21 L206.23 232.31 L206.79 232.40 L207.36 232.49 L207.92 232.57 L208.49 232.64 L209.05 232.71 L209.62 232.77 L210.18 232.83 L210.75 232.88 L211.31 232.93 L211.88 232.98 L212.45 233.02 L213.01 233.05 L213.58 233.08 L214.14 233.11 L214.71 233.14 L215.27 233.16 L215.84 233.18 L216.40 233.20 L216.97 233.22 L217.53 233.23 L218.10 233.24 L218.66 233.26 L219.23 233.26 L219.79 233.27 L220.36 233.28 L220.93 233.28 L221.49 233.29 L222.06 233.29 L222.62 233.29 L223.19 233.30 L223.75 233.30 L224.32 233.30 L224.88 233.30 L225.45 233.30 L226.01 233.30 L226.58 233.30 L227.14 233.30 L227.71 233.30 L228.27 233.30 L228.84 233.30 L229.41 233.30 L229.97 233.30 L230.54 233.30 L231.10 233.30 L231.67 233.30 L232.23 233.30 L232.80 233.30 L233.36 233.30 L233.93 233.30 L234.49 233.30 L235.06 233.30 L235.62 233.30 L236.19 233.30 L236.75 233.29 L237.32 233.29 L237.89 233.29 L238.45 233.28 L239.02 233.28 L239.58 233.27 L240.15 233.26 L240.71 233.26 L241.28 233.24 L241.84 233.23 L242.41 233.22 L242.97 233.20 L243.54 233.18 L244.10 233.16 L244.67 233.14 L245.23 233.11 L245.80 233.08 L246.37 233.05 L246.93 233.02 L247.50 232.98 L248.06 232.93 L248.63 232.88 L249.19 232.83 L249.76 232.77 L250.32 232.71 L250.89 232.64 L251.45 232.57 L252.02 232.49 L252.58 232.40 L253.15 232.31 L253.71 232.21 L254.28 232.10 L254.84 231.98 L255.41 231.86 L255.98 231.73 L256.54 231.59 L257.11 231.44 L257.67 231.28 L258.24 231.11 L258.80 230.93 L259.37 230.73 L259.93 230.53 L260.50 230.32 L261.06 230.09 L261.63 229.85 L262.19 229.60 L262.76 229.33 L263.32 229.05 L263.89 228.76 L264.46 228.45 L265.02 228.13 L265.59 227.78 L266.15 227.43 L266.72 227.05 L267.28 226.66 L267.85 226.25 L268.41 225.82 L268.98 225.37 L269.54 224.91 L270.11 224.42 L270.67 223.91 L271.24 223.38 L271.80 222.82 L272.37 222.25 L272.94 221.65 L273.50 221.02 L274.07 220.38 L274.63 219.70 L275.20 219.00 L275.76 218.28 L276.33 217.52 L276.89 216.74 L277.46 215.93 L278.02 215.09 L278.59 214.23 L279.15 213.33 L279.72 212.39 L280.28 211.43 L280.85 210.43 L281.42 209.40 L281.98 208.34 L282.55 207.24 L283.11 206.11 L283.68 204.93 L284.24 203.72 L284.81 202.48 L285.37 201.19 L285.94 199.86 L286.50 198.50 L287.07 197.09 L287.63 195.64 L288.20 194.14 L288.76 192.60 L289.33 191.02 L289.89 189.39 L290.46 187.72 L291.03 185.99 L291.59 184.22 L292.16 182.40 L292.72 180.53 L293.29 178.61 L293.85 176.63 L294.42 174.61 L294.98 172.53 L295.55 170.39 L296.11 168.20 L296.68 165.95 L297.24 163.65 L297.81 161.28 L298.37 158.86 L298.94 156.38 L299.51 153.83 L300.07 151.22 L300.64 148.55 L301.20 145.81 L301.77 143.01 L302.33 140.14 L302.90 137.20 L303.46 134.20 L304.03 131.12 L304.59 127.97 L305.16 124.75 L305.72 121.46 L306.29 118.09 L306.85 114.65 L307.42 111.13 L307.99 107.53 L308.55 103.86 L309.12 100.10 L309.68 96.27 L310.25 92.35 L310.81 88.35 L311.38 84.26 L311.94 80.09 L312.51 75.83 L313.07 71.48 L313.64 67.04 L314.20 62.51 L314.77 57.89 L315.33 53.18 L315.90 48.38 L316.47 43.47 L317.03 38.47 L317.60 33.38 L318.16 28.18 L318.73 22.88 L319.29 17.48 L319.86 11.98" stroke="#00aa00" stroke-width="2.00"/>
<path d="M48 22.10 H407" stroke="#626262" stroke-width="1.2" stroke-dasharray="6.6 2.45" stroke-dashoffset="1.05"/>
</g>
<path d="M56.50 233.50 v-2.50 M56.50 13.50 v2.50 M71.50 233.50 v-4.20 M71.50 13.50 v4.20 M87.50 233.50 v-2.50 M87.50 13.50 v2.50 M102.50 233.50 v-2.50 M102.50 13.50 v2.50 M118.50 233.50 v-2.50 M118.50 13.50 v2.50 M133.50 233.50 v-2.50 M133.50 13.50 v2.50 M149.50 233.50 v-4.20 M149.50 13.50 v4.20 M165.50 233.50 v-2.50 M165.50 13.50 v2.50 M180.50 233.50 v-2.50 M180.50 13.50 v2.50 M196.50 233.50 v-2.50 M196.50 13.50 v2.50 M211.50 233.50 v-2.50 M211.50 13.50 v2.50 M227.50 233.50 v-4.20 M227.50 13.50 v4.20 M242.50 233.50 v-2.50 M242.50 13.50 v2.50 M258.50 233.50 v-2.50 M258.50 13.50 v2.50 M273.50 233.50 v-2.50 M273.50 13.50 v2.50 M289.50 233.50 v-2.50 M289.50 13.50 v2.50 M304.50 233.50 v-4.20 M304.50 13.50 v4.20 M320.50 233.50 v-2.50 M320.50 13.50 v2.50 M336.50 233.50 v-2.50 M336.50 13.50 v2.50 M351.50 233.50 v-2.50 M351.50 13.50 v2.50 M367.50 233.50 v-2.50 M367.50 13.50 v2.50 M382.50 233.50 v-4.20 M382.50 13.50 v4.20 M398.50 233.50 v-2.50 M398.50 13.50 v2.50 M49.50 233.50 h4.20 M405.50 233.50 h-4.20 M49.50 222.50 h2.50 M405.50 222.50 h-2.50 M49.50 211.50 h2.50 M405.50 211.50 h-2.50 M49.50 200.50 h2.50 M405.50 200.50 h-2.50 M49.50 189.50 h2.50 M405.50 189.50 h-2.50 M49.50 178.50 h4.20 M405.50 178.50 h-4.20 M49.50 167.50 h2.50 M405.50 167.50 h-2.50 M49.50 156.50 h2.50 M405.50 156.50 h-2.50 M49.50 145.50 h2.50 M405.50 145.50 h-2.50 M49.50 134.50 h2.50 M405.50 134.50 h-2.50 M49.50 123.50 h4.20 M405.50 123.50 h-4.20 M49.50 112.50 h2.50 M405.50 112.50 h-2.50 M49.50 101.50 h2.50 M405.50 101.50 h-2.50 M49.50 90.50 h2.50 M405.50 90.50 h-2.50 M49.50 79.50 h2.50 M405.50 79.50 h-2.50 M49.50 68.50 h4.20 M405.50 68.50 h-4.20 M49.50 57.50 h2.50 M405.50 57.50 h-2.50 M49.50 46.50 h2.50 M405.50 46.50 h-2.50 M49.50 35.50 h2.50 M405.50 35.50 h-2.50 M49.50 24.50 h2.50 M405.50 24.50 h-2.50 M49.50 13.50 h4.20 M405.50 13.50 h-4.20" stroke="#333" stroke-width="0.75" fill="none"/>
<rect x="49.50" y="13.50" width="356.00" height="220.00" fill="none" stroke="#505050" stroke-width="0.7"/>
<text transform="translate(45.2,240.50) scale(1.160,1)" font-size="16.5" font-weight="bold" stroke="#fff" stroke-width="0.35" text-anchor="end">0</text>
<text transform="translate(45.2,185.50) scale(1.160,1)" font-size="16.5" font-weight="bold" stroke="#fff" stroke-width="0.35" text-anchor="end">1</text>
<text transform="translate(45.2,130.50) scale(1.160,1)" font-size="16.5" font-weight="bold" stroke="#fff" stroke-width="0.35" text-anchor="end">2</text>
<text transform="translate(45.2,75.50) scale(1.160,1)" font-size="16.5" font-weight="bold" stroke="#fff" stroke-width="0.35" text-anchor="end">3</text>
<text transform="translate(45.2,20.50) scale(1.160,1)" font-size="16.5" font-weight="bold" stroke="#fff" stroke-width="0.35" text-anchor="end">4</text>
<path d="M48.00 253.1 H57.50" stroke="#000" stroke-width="1.5"/>
<text transform="translate(96.60,257.6) scale(1.201,1)" font-size="16.5" font-weight="bold" stroke="#fff" stroke-width="0.35" letter-spacing="0.55" text-anchor="end">0.10</text>
<path d="M125.75 253.1 H135.25" stroke="#000" stroke-width="1.5"/>
<text transform="translate(174.35,257.6) scale(1.201,1)" font-size="16.5" font-weight="bold" stroke="#fff" stroke-width="0.35" letter-spacing="0.55" text-anchor="end">0.05</text>
<text transform="translate(227.10,257.6) scale(1.212,1)" font-size="16.5" font-weight="bold" stroke="#fff" stroke-width="0.35" letter-spacing="0.55" text-anchor="middle">0.00</text>
<text transform="translate(304.85,257.6) scale(1.212,1)" font-size="16.5" font-weight="bold" stroke="#fff" stroke-width="0.35" letter-spacing="0.55" text-anchor="middle">0.05</text>
<text transform="translate(382.60,257.6) scale(1.212,1)" font-size="16.5" font-weight="bold" stroke="#fff" stroke-width="0.35" letter-spacing="0.55" text-anchor="middle">0.10</text>
<g transform="translate(18.4,133.6) rotate(-90)"><text transform="scale(1.22,1)" font-size="20" font-style="italic">χ</text><text transform="translate(11.6,-10.3) scale(1.3,1)" font-size="10.5" stroke="#000" stroke-width="0.3">2</text></g>
<text x="215.4" y="290.2" font-size="18.5" font-style="italic">C</text>
<text x="229" y="282.4" font-size="14" font-style="italic">V</text>
<text x="228.3" y="296" font-size="13">2</text>
<g transform="translate(200.5,62.4) scale(1.12,1)" font-size="18"><text x="0" y="0" font-style="italic">t</text><text x="5.4" y="0" font-style="italic">t</text><text x="25" y="0">:</text><text x="34" y="0">4</text><text x="43.2" y="0" font-style="italic">l</text></g>
<text transform="translate(211.3,62.4) scale(1.25,1)" font-size="18">Z</text>
<path d="M207.3 48.3 H213.0" stroke="#000" stroke-width="1.0"/>
<text x="191.3" y="107.2" font-size="20.5">=</text>
<text x="208.8" y="107.2" font-size="20.5">3000</text>
<text x="254.2" y="107.2" font-size="20.5">fb</text>
<text x="271.5" y="99" font-size="16">−1</text>
<text x="165.2" y="107.2" font-size="22" fill="#000" style="font-family:'Liberation Serif','DejaVu Serif','DejaVu Sans',serif">ℒ</text>
</svg></body></html>
